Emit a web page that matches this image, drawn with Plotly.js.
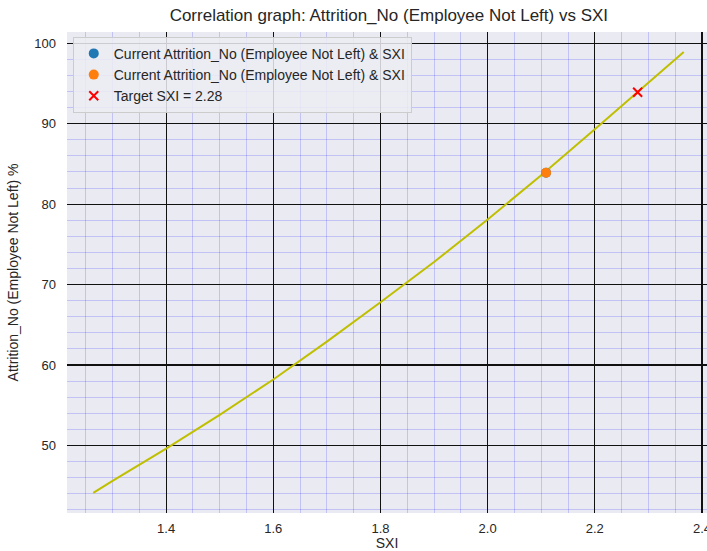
<!DOCTYPE html>
<html>
<head>
<meta charset="utf-8">
<script src="https://cdn.plot.ly/plotly-3.0.1.min.js"></script>
<style>html,body{margin:0;padding:0;background:#fff;}#chart{width:707px;height:551px;}</style>
</head>
<body>
<div id="chart"></div>
<script>
// Curve
const curveSXI = [1.264, 1.3, 1.4, 1.5, 1.6, 1.7, 1.8, 1.9, 2.0, 2.1, 2.2, 2.3, 2.366];
const curveAttrition = [44.1, 45.6, 49.6, 53.8, 58.2, 62.9, 67.8, 72.8, 78.1, 83.6, 89.3, 95.1, 98.9];
// Current point(s)
const currentSXI = [2.109];
const currentAttrition = [83.9];
// Target
const targetSXI = [2.28];
const targetAttrition = [93.9];
const legendNames = [
  "Current Attrition_No (Employee Not Left) & SXI",
  "Current Attrition_No (Employee Not Left) & SXI",
  "Target SXI = 2.28"
];

const font = "Liberation Sans, Arial, sans-serif";

const traces = [
  {x: curveSXI, y: curveAttrition, mode: "lines", line: {color: "#bfbf00", width: 2}, showlegend: false, hoverinfo: "skip"},
  {x: currentSXI, y: currentAttrition, mode: "markers", name: legendNames[0], marker: {color: "#1f77b4", size: 10}},
  {x: currentSXI, y: currentAttrition, mode: "markers", name: legendNames[1], marker: {color: "#ff7f0e", size: 10}},
  {x: targetSXI, y: targetAttrition, mode: "markers", name: legendNames[2], marker: {color: "red", size: 9, symbol: "x-thin", line: {color: "red", width: 2}}}
];

const layout = {
  width: 707, height: 551,
  margin: {l: 67, r: 0, t: 32, b: 38},
  paper_bgcolor: "#ffffff",
  plot_bgcolor: "#eaeaf2",
  font: {family: font, size: 13, color: "#262626"},
  title: {text: "Correlation graph: Attrition_No (Employee Not Left) vs SXI", font: {family: font, size: 17, color: "#262626"}, x: 0.55, xanchor: "center", y: 0.972, yanchor: "middle"},
  xaxis: {
    range: [1.215, 2.4094],
    tick0: 1.4, dtick: 0.2, tickformat: ".1f",
    showgrid: true, gridcolor: "#111111", gridwidth: 1.2,
    minor: {dtick: 0.05, tick0: 1.2, showgrid: true, gridcolor: "rgba(0,0,255,0.17)", gridwidth: 1},
    zeroline: false, showline: false, ticks: "",
    ticklabeloverflow: "allow", ticklabelstandoff: 6,
    tickfont: {family: font, size: 13, color: "#262626"},
    title: {text: "SXI", font: {family: font, size: 14, color: "#262626"}, standoff: 11}
  },
  yaxis: {
    range: [41.6, 101.4],
    tick0: 50, dtick: 10,
    showgrid: true, gridcolor: "#111111", gridwidth: 1.2,
    minor: {dtick: 2, tick0: 40, showgrid: true, gridcolor: "rgba(0,0,255,0.17)", gridwidth: 1},
    zeroline: false, showline: false, ticks: "",
    ticklabelstandoff: 10,
    tickfont: {family: font, size: 13, color: "#262626"},
    title: {text: "Attrition_No (Employee Not Left) %", font: {family: font, size: 14, color: "#262626"}, standoff: 12}
  },
  legend: {
    x: 0.009, y: 0.99, xanchor: "left", yanchor: "top",
    bgcolor: "rgba(236,236,243,0.85)", bordercolor: "#cccccc", borderwidth: 1,
    font: {family: font, size: 14, color: "#262626"},
    tracegroupgap: 0
  },
  showlegend: true
};

Plotly.newPlot("chart", traces, layout, {displayModeBar: false, staticPlot: true});
</script>
</body>
</html>
